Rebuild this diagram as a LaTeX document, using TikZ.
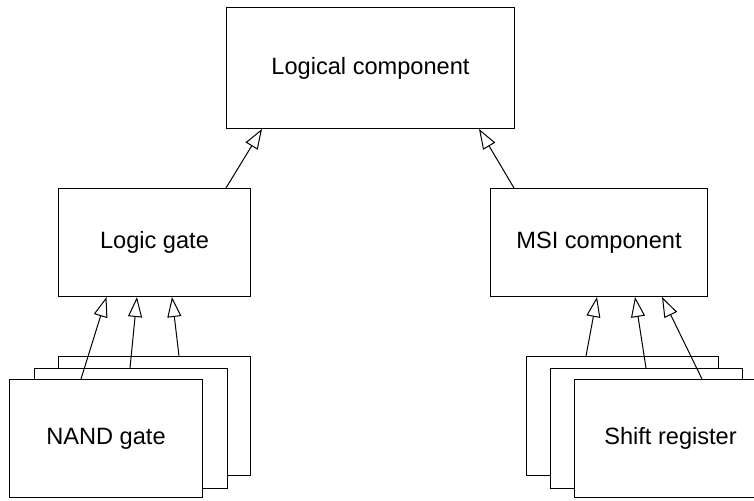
\documentclass[tikz,border=0pt]{standalone}
\usepackage{fontspec}
\setmainfont{Liberation Sans}
\usetikzlibrary{arrows.meta}
\tikzset{
  classbox/.style={draw=black, fill=white, line width=1pt, rectangle, anchor=north west,
    inner sep=0pt, font=\fontsize{23.6}{28}\selectfont},
  inherits/.style={draw=black, line width=1pt,
    -{Triangle[open, length=20pt, width=14pt, fill=white]}}
}
\begin{document}
\begin{tikzpicture}[x=1pt, y=-1pt]
\useasboundingbox (0,0) rectangle (754,500);
\clip (0,0) rectangle (754,500);

% abstract classes
\node[classbox, minimum width=288pt, minimum height=121pt] (top) at (226,7) {Logical component};
\node[classbox, minimum width=192pt, minimum height=108pt] (gate) at (58,188) {Logic gate};
\node[classbox, minimum width=217pt, minimum height=108pt] (msi) at (490,188) {MSI component};

% stacked NAND gate instances (back to front)
\node[classbox, minimum width=192pt, minimum height=119pt] (nand3) at (58,356) {};
\node[classbox, minimum width=193pt, minimum height=120pt] (nand2) at (34,368) {};
\node[classbox, minimum width=193pt, minimum height=118pt] (nand1) at (9,379) {NAND gate};

% stacked shift register instances (back to front)
\node[classbox, minimum width=192pt, minimum height=119pt] (sr3) at (526,356) {};
\node[classbox, minimum width=192pt, minimum height=120pt] (sr2) at (550,368) {};
\node[classbox, minimum width=192pt, minimum height=118pt] (sr1) at (574,379) {Shift register};

% generalization arrows
\draw[inherits] ([xshift=168pt]gate.north west) -- ([xshift=36pt]top.south west);
\draw[inherits] ([xshift=24pt]msi.north west) -- ([xshift=-36pt]top.south east);

\draw[inherits] ([xshift=72pt]nand1.north west) -- ([xshift=48.5pt]gate.south west);
\draw[inherits] ([xshift=96pt]nand2.north west) -- ([xshift=79pt]gate.south west);
\draw[inherits] ([xshift=121pt]nand3.north west) -- ([xshift=114pt]gate.south west);

\draw[inherits] ([xshift=60pt]sr3.north west) -- ([xshift=107pt]msi.south west);
\draw[inherits] ([xshift=96pt]sr2.north west) -- ([xshift=145pt]msi.south west);
\draw[inherits] ([xshift=128pt]sr1.north west) -- ([xshift=172pt]msi.south west);
\end{tikzpicture}
\end{document}
